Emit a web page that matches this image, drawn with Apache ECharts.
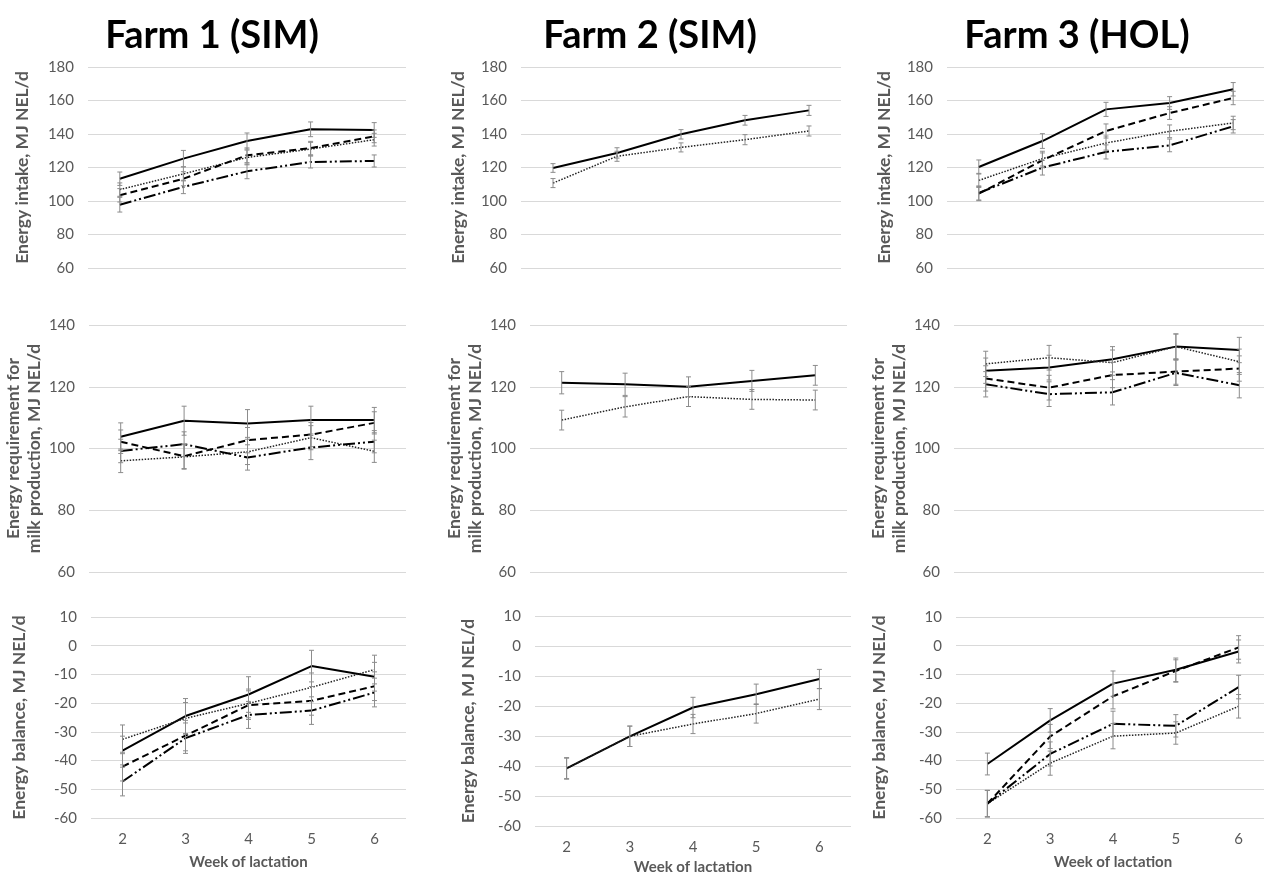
<!DOCTYPE html>
<html>
<head>
<meta charset="utf-8">
<script src="https://cdn.jsdelivr.net/npm/echarts@6/dist/echarts.min.js"></script>
<style>
  html, body { margin: 0; padding: 0; background: #fff; }
  #chart { width: 1264px; height: 874px; }
</style>
</head>
<body>
<div id="chart"></div>
<script>
// categories and tick labels
var weeks = ['2', '3', '4', '5', '6'];
var farmTitles = ['Farm 1 (SIM)', 'Farm 2 (SIM)', 'Farm 3 (HOL)'];
var intakeTicks = [60, 80, 100, 120, 140, 160, 180];
var reqTicks = [60, 80, 100, 120, 140];
var balTicks = [-60, -50, -40, -30, -20, -10, 0, 10];

// Farm 1 - energy intake (solid, dotted, dashed, dash-dot-dot) + error bars
var f1IntakeSolid = [113.3, 125.3, 135.8, 142.8, 142.4];
var f1IntakeDot = [106.8, 116.2, 126.0, 131.0, 136.6];
var f1IntakeDash = [103.4, 113.3, 127.3, 131.6, 138.6];
var f1IntakeDdot = [97.8, 108.4, 117.7, 123.3, 123.9];
var f1IntakeSolidErr = [4.0, 4.9, 4.8, 4.4, 4.4];
var f1IntakeDotErr = [4.0, 4.2, 4.4, 4.0, 3.8];
var f1IntakeDashErr = [4.0, 4.2, 4.4, 4.0, 3.8];
var f1IntakeDdotErr = [4.4, 4.0, 4.4, 3.6, 3.6];

// Farm 1 - requirement for milk production
var f1ReqSolid = [103.8, 109.0, 108.1, 109.2, 109.2];
var f1ReqDot = [96.0, 97.3, 98.9, 103.5, 99.1];
var f1ReqDash = [102.2, 97.5, 102.7, 104.5, 108.3];
var f1ReqDdot = [99.2, 101.4, 97.1, 100.3, 102.2];
var f1ReqSolidErr = [4.5, 4.7, 4.5, 4.5, 4.1];
var f1ReqDotErr = [3.8, 4.0, 4.1, 3.9, 3.6];
var f1ReqDashErr = [3.8, 4.0, 4.1, 3.9, 3.6];
var f1ReqDdotErr = [3.8, 4.0, 4.1, 3.9, 3.6];

// Farm 1 - energy balance
var f1BalSolid = [-36.5, -24.5, -17.0, -7.1, -10.8];
var f1BalDot = [-32.6, -25.3, -20.1, -14.5, -8.3];
var f1BalDash = [-42.1, -31.3, -20.7, -19.2, -14.1];
var f1BalDdot = [-47.3, -32.2, -24.1, -22.6, -16.3];
var f1BalSolidErr = [5.0, 6.1, 6.2, 5.5, 5.0];
var f1BalDotErr = [5.0, 5.5, 5.0, 5.0, 5.0];
var f1BalDashErr = [5.0, 5.3, 5.0, 5.0, 5.0];
var f1BalDdotErr = [5.0, 5.3, 4.7, 4.8, 5.0];

// Farm 2 - intake, requirement, balance (solid, dotted)
var f2IntakeSolid = [119.7, 128.7, 139.8, 148.2, 154.1];
var f2IntakeDot = [110.7, 126.7, 132.0, 136.6, 141.8];
var f2IntakeSolidErr = [2.6, 3.1, 2.8, 2.9, 3.0];
var f2IntakeDotErr = [2.7, 3.0, 2.7, 3.0, 3.0];
var f2ReqSolid = [121.3, 120.8, 120.0, 121.9, 123.7];
var f2ReqDot = [109.2, 113.5, 116.8, 115.9, 115.7];
var f2ReqSolidErr = [3.6, 3.6, 3.2, 3.4, 3.2];
var f2ReqDotErr = [3.2, 3.3, 3.2, 3.2, 3.2];
var f2BalSolid = [-40.8, -30.1, -20.5, -16.1, -11.0];
var f2BalDot = [-40.8, -30.1, -26.0, -22.5, -17.7];
var f2BalSolidErr = [3.6, 3.4, 3.4, 3.4, 3.2];
var f2BalDotErr = [3.4, 3.4, 3.2, 3.2, 3.5];

// Farm 3 - energy intake
var f3IntakeSolid = [120.3, 135.8, 154.7, 158.5, 166.7];
var f3IntakeDot = [112.3, 125.3, 134.6, 141.6, 146.6];
var f3IntakeDash = [104.4, 124.3, 141.8, 152.5, 161.5];
var f3IntakeDdot = [104.8, 119.9, 129.3, 133.2, 144.6];
var f3IntakeErr = [4.2, 4.4, 4.2, 3.8, 4.0];

// Farm 3 - requirement for milk production
var f3ReqSolid = [125.2, 126.2, 128.9, 133.0, 131.9];
var f3ReqDot = [127.4, 129.4, 127.8, 133.0, 128.1];
var f3ReqDash = [122.7, 119.7, 123.8, 124.9, 125.9];
var f3ReqDdot = [120.8, 117.6, 118.2, 124.5, 120.5];
var f3ReqErr = [4.1, 4.0, 4.1, 4.1, 4.1];

// Farm 3 - energy balance
var f3BalSolid = [-41.2, -26.0, -13.2, -8.4, -2.0];
var f3BalDot = [-55.0, -40.9, -31.5, -30.4, -21.1];
var f3BalDash = [-55.0, -31.6, -17.6, -8.8, -0.6];
var f3BalDdot = [-55.0, -37.7, -27.2, -27.9, -14.4];
var f3BalSolidErr = [3.8, 4.1, 4.4, 4.1, 4.0];
var f3BalErr = [4.6, 4.2, 4.4, 3.9, 4.1];

var lineStyles = {
  solid: { color: '#000', width: 2, type: 'solid' },
  dot: { color: '#222', width: 1.5, type: [1.5, 1.5] },
  dash: { color: '#000', width: 2, type: [7, 4] },
  ddot: { color: '#000', width: 2, type: [12, 3, 2, 3, 2, 3] }
};

var intakeName = 'Energy intake, MJ NEL/d';
var reqName = 'Energy requirement for\nmilk production, MJ NEL/d';
var balName = 'Energy balance, MJ NEL/d';

var panels = [
  { grid: { left: 88, top: 67, width: 318, height: 201 }, ticks: intakeTicks, name: intakeName, gap: 55.5,
    lines: [[f1IntakeSolid, f1IntakeSolidErr, 'solid'], [f1IntakeDot, f1IntakeDotErr, 'dot'], [f1IntakeDash, f1IntakeDashErr, 'dash'], [f1IntakeDdot, f1IntakeDdotErr, 'ddot']] },
  { grid: { left: 521, top: 67, width: 320, height: 201 }, ticks: intakeTicks, name: intakeName, gap: 52.5,
    lines: [[f2IntakeSolid, f2IntakeSolidErr, 'solid'], [f2IntakeDot, f2IntakeDotErr, 'dot']] },
  { grid: { left: 947, top: 67, width: 318, height: 201 }, ticks: intakeTicks, name: intakeName, gap: 52.5,
    lines: [[f3IntakeSolid, f3IntakeErr, 'solid'], [f3IntakeDot, f3IntakeErr, 'dot'], [f3IntakeDash, f3IntakeErr, 'dash'], [f3IntakeDdot, f3IntakeErr, 'ddot']] },
  { grid: { left: 89, top: 325, width: 317, height: 247 }, ticks: reqTicks, name: reqName, gap: 33,
    lines: [[f1ReqSolid, f1ReqSolidErr, 'solid'], [f1ReqDot, f1ReqDotErr, 'dot'], [f1ReqDash, f1ReqDashErr, 'dash'], [f1ReqDdot, f1ReqDdotErr, 'ddot']] },
  { grid: { left: 530, top: 325, width: 317, height: 247 }, ticks: reqTicks, name: reqName, gap: 31,
    lines: [[f2ReqSolid, f2ReqSolidErr, 'solid'], [f2ReqDot, f2ReqDotErr, 'dot']] },
  { grid: { left: 954, top: 325, width: 317, height: 247 }, ticks: reqTicks, name: reqName, gap: 35,
    lines: [[f3ReqSolid, f3ReqErr, 'solid'], [f3ReqDot, f3ReqErr, 'dot'], [f3ReqDash, f3ReqErr, 'dash'], [f3ReqDdot, f3ReqErr, 'ddot']] },
  { grid: { left: 91, top: 617, width: 315, height: 201 }, ticks: balTicks, name: balName, gap: 61, xGap: 37, bottom: true,
    lines: [[f1BalSolid, f1BalSolidErr, 'solid'], [f1BalDot, f1BalDotErr, 'dot'], [f1BalDash, f1BalDashErr, 'dash'], [f1BalDdot, f1BalDdotErr, 'ddot']] },
  { grid: { left: 535, top: 616, width: 316, height: 210 }, ticks: balTicks, name: balName, gap: 56.5, xGap: 34, bottom: true,
    lines: [[f2BalSolid, f2BalSolidErr, 'solid'], [f2BalDot, f2BalDotErr, 'dot']] },
  { grid: { left: 956, top: 617, width: 314, height: 201 }, ticks: balTicks, name: balName, gap: 66, xGap: 37, bottom: true,
    lines: [[f3BalSolid, f3BalSolidErr, 'solid'], [f3BalDot, f3BalErr, 'dot'], [f3BalDash, f3BalErr, 'dash'], [f3BalDdot, f3BalErr, 'ddot']] }
];

var textGray = '#595959';
var grids = [], xAxes = [], yAxes = [], series = [];

function errorBars(params, api) {
  var x = api.value(0);
  var lo = api.coord([x, api.value(1)]);
  var hi = api.coord([x, api.value(2)]);
  var c = 2.5;
  var st = { stroke: '#8c8c8c', lineWidth: 1 };
  return {
    type: 'group',
    children: [
      { type: 'line', shape: { x1: lo[0], y1: lo[1], x2: hi[0], y2: hi[1] }, style: st },
      { type: 'line', shape: { x1: lo[0] - c, y1: lo[1], x2: lo[0] + c, y2: lo[1] }, style: st },
      { type: 'line', shape: { x1: hi[0] - c, y1: hi[1], x2: hi[0] + c, y2: hi[1] }, style: st }
    ]
  };
}

panels.forEach(function (p, i) {
  var g = p.grid;
  g.containLabel = false;
  g.outerBoundsMode = 'none';
  grids.push(g);
  xAxes.push({
    gridIndex: i,
    type: 'category',
    data: weeks,
    boundaryGap: true,
    axisLine: { show: false },
    axisTick: { show: false },
    axisLabel: { show: !!p.bottom, color: textGray, fontSize: 15, fontFamily: 'Lato', margin: 14 },
    name: p.bottom ? 'Week of lactation' : '',
    nameLocation: 'middle',
    nameGap: p.xGap || 30,
    nameTextStyle: { color: textGray, fontSize: 15, fontWeight: 'bold', fontFamily: 'Lato' }
  });
  yAxes.push({
    gridIndex: i,
    type: 'value',
    min: p.ticks[0],
    max: p.ticks[p.ticks.length - 1],
    interval: p.ticks[1] - p.ticks[0],
    axisLine: { show: false },
    axisTick: { show: false },
    splitLine: { lineStyle: { color: '#d9d9d9', width: 1 } },
    axisLabel: { color: textGray, fontSize: 15, fontFamily: 'Lato', margin: 14 },
    name: p.name,
    nameLocation: 'middle',
    nameGap: p.gap,
    nameTextStyle: { color: textGray, fontSize: 17.5, fontWeight: 'bold', fontFamily: 'Lato', lineHeight: 21 }
  });
  p.lines.forEach(function (ln) {
    var vals = ln[0], err = ln[1];
    series.push({
      type: 'custom',
      xAxisIndex: i,
      yAxisIndex: i,
      renderItem: errorBars,
      data: vals.map(function (v, k) { return [k, v - err[k], v + err[k]]; }),
      encode: { x: 0, y: [1, 2] },
      silent: true,
      z: 3
    });
    series.push({
      type: 'line',
      xAxisIndex: i,
      yAxisIndex: i,
      data: vals,
      showSymbol: false,
      symbol: 'none',
      lineStyle: lineStyles[ln[2]],
      silent: true,
      z: 2
    });
  });
});

var centers = [207, 645, 1072];
var titles = farmTitles.map(function (t, i) {
  return {
    text: t,
    left: centers[i],
    top: 12,
    textAlign: 'center',
    textStyle: { fontFamily: 'Lato', fontSize: 38, fontWeight: 'bold', color: '#000' }
  };
});

var chart = echarts.init(document.getElementById('chart'));
chart.setOption({
  animation: false,
  backgroundColor: '#fff',
  title: titles,
  grid: grids,
  xAxis: xAxes,
  yAxis: yAxes,
  series: series
});
</script>
</body>
</html>
